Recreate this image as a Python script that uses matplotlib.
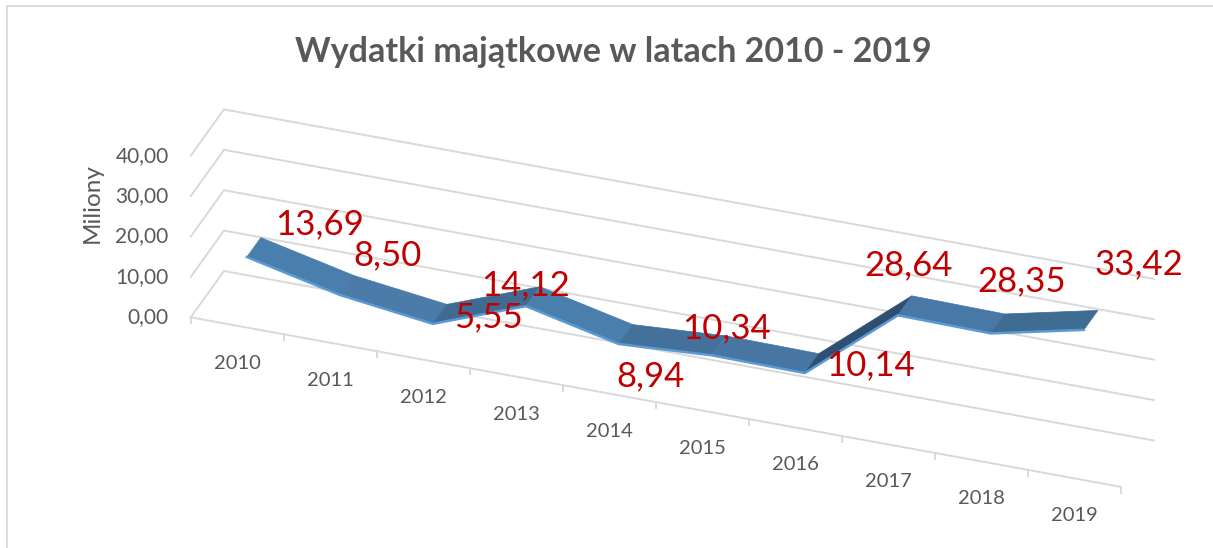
import numpy as np
from matplotlib import pyplot as plt
from matplotlib.patches import Polygon

plt.rcParams['font.family'] = ['Lato', 'DejaVu Sans']

years = ['2010', '2011', '2012', '2013', '2014',
         '2015', '2016', '2017', '2018', '2019']
values = [13.69, 8.50, 5.55, 14.12, 8.94, 10.34, 10.14, 28.64, 28.35, 33.42]
value_labels = ['13,69', '8,50', '5,55', '14,12', '8,94',
                '10,34', '10,14', '28,64', '28,35', '33,42']
y_ticks = [0, 10, 20, 30, 40]
y_tick_labels = ['0,00', '10,00', '20,00', '30,00', '40,00']

# shade of each ribbon segment, the faces turn darker when the line climbs
segment_colors = ['#4A7EAC', '#4A7BA9', '#3F6A91', '#4A7EAC', '#44719B',
                  '#4876A3', '#2F4F70', '#4878A6', '#3F6C92']
# where the data labels sit relative to their point, in pixels
label_offsets = [(73, -33), (48, -40), (56, -7), (0, -21), (32, 32),
                 (15, -27), (66, -8), (11, -50), (31, -52), (55, -66)]

GRID = '#D9D9D9'
TEXT = '#595959'
RED = '#C00000'
DEPTH_FRONT = 0.29
DEPTH_BACK = 0.71


def project(c, v, d=0.0):
    # category position, value and depth to picture pixels
    x = 190.7 + 93.0 * c + 33.3 * d
    y = 317.3 + 16.95 * c - 4.04 * v - 46.3 * d
    return x, y


fig = plt.figure(figsize=(12.13, 5.48), dpi=100)
ax = fig.add_axes([0, 0, 1, 1])
ax.set_xlim(0, 1213)
ax.set_ylim(548, 0)
ax.axis('off')

# chart frame
ax.plot([7, 7, 1213], [548, 5.5, 5.5], color=GRID, lw=1.3)

# walls and gridlines
for v in y_ticks:
    pts = [project(0, v, 0), project(0, v, 1), project(10, v, 1)]
    ax.plot(*zip(*pts), color=GRID, lw=1.4, solid_joinstyle='miter')

# category axis and ticks
ax.plot(*zip(project(0, 0), project(10, 0)), color=GRID, lw=1.4)
for c in range(11):
    x, y = project(c, 0)
    ax.plot([x, x], [y, y + 6], color=GRID, lw=1.4)

for v, lab in zip(y_ticks, y_tick_labels):
    x, y = project(0, v)
    ax.text(x - 22, y, lab, ha='right', va='center', fontsize=15, color=TEXT)

for i, year in enumerate(years):
    x, y = project(i + 0.5, 0)
    ax.text(x, y + 37.5, year, ha='center', va='center', fontsize=14.5, color=TEXT)

ax.text(92, 203, 'Miliony', rotation=90, ha='center', va='center',
        fontsize=17.5, color=TEXT)
ax.text(613, 52, 'Wydatki majątkowe w latach 2010 - 2019', ha='center',
        va='center', fontsize=24.5, fontweight='bold', color=TEXT)

# ribbon
for i in range(len(values) - 1):
    c0, c1 = i + 0.5, i + 1.5
    quad = [project(c0, values[i], DEPTH_FRONT),
            project(c1, values[i + 1], DEPTH_FRONT),
            project(c1, values[i + 1], DEPTH_BACK),
            project(c0, values[i], DEPTH_BACK)]
    ax.add_patch(Polygon(quad, closed=True, facecolor=segment_colors[i],
                         edgecolor=segment_colors[i], lw=0.5, zorder=3))

cats = np.arange(len(values)) + 0.5
front = [project(c, v, DEPTH_FRONT) for c, v in zip(cats, values)]
ax.plot(*zip(*front), color='#5B9BD5', lw=1.8, solid_joinstyle='miter', zorder=4)

for i, lab in enumerate(value_labels):
    x, y = project(cats[i], values[i], DEPTH_FRONT)
    dx, dy = label_offsets[i]
    ax.text(x + dx, y + dy, lab, ha='center', va='center', fontsize=25,
            color=RED, zorder=5)

fig.savefig('out.png', dpi=100)
